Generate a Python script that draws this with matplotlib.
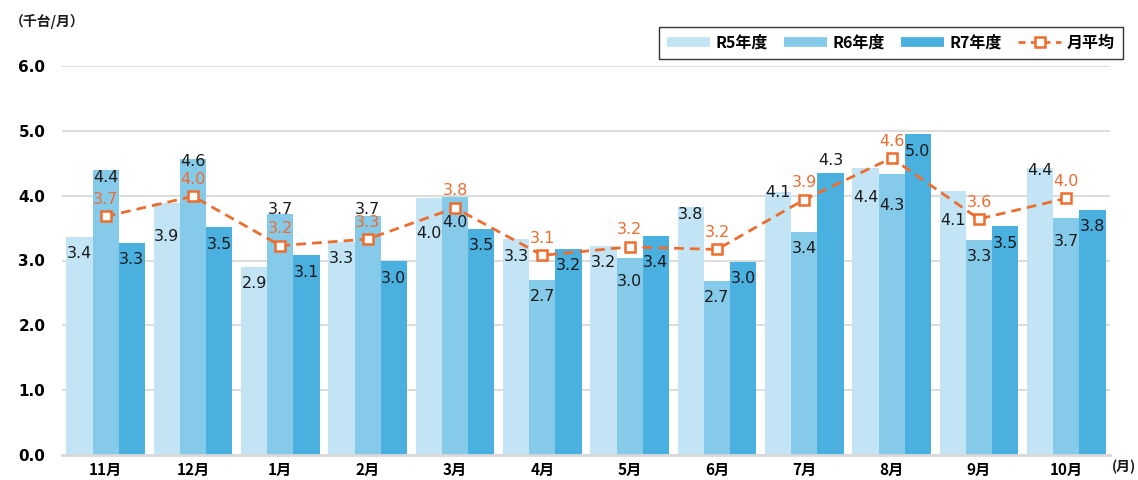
import matplotlib
matplotlib.use("Agg")
import matplotlib.pyplot as plt
from matplotlib.lines import Line2D
import numpy as np

plt.rcParams['font.family'] = ['Noto Sans CJK JP', 'DejaVu Sans']

# --- data ---
months = ["11月", "12月", "1月", "2月", "3月", "4月", "5月", "6月", "7月", "8月", "9月", "10月"]
r5 = [3.37, 3.88, 2.90, 3.29, 3.96, 3.33, 3.23, 3.82, 4.06, 4.43, 4.07, 4.42]
r6 = [4.40, 4.57, 3.71, 3.68, 3.98, 2.70, 3.04, 2.69, 3.44, 4.34, 3.32, 3.66]
r7 = [3.27, 3.51, 3.08, 2.99, 3.49, 3.18, 3.38, 2.98, 4.35, 4.95, 3.53, 3.78]
avg = [3.68, 3.99, 3.23, 3.33, 3.81, 3.08, 3.21, 3.17, 3.94, 4.58, 3.64, 3.96]
series_names = ["R5年度", "R6年度", "R7年度"]
avg_name = "月平均"

colors = ["#C2E4F4", "#86CAEA", "#49B0E0"]
orange = "#ED6D2F"
num_font = "DejaVu Sans"

# label offsets below bar top (pixels); default 17, some moved by hand in the original
label_shift = {(0, 1): 8, (1, 0): 33, (1, 1): 3, (2, 1): -5, (3, 1): -7,
               (4, 0): 35, (4, 1): 26, (6, 1): 24, (6, 2): 27, (7, 0): 7,
               (8, 0): 1, (8, 2): -12, (9, 0): 30, (9, 1): 32, (10, 0): 29,
               (11, 0): 2, (11, 1): 24}

fig = plt.figure(figsize=(11.38, 4.8), dpi=100)
ax = fig.add_axes([62 / 1138, 25 / 480, (1110 - 62) / 1138, (455 - 66) / 480])

x = np.arange(len(months))
w = 0.30
for i, (vals, c) in enumerate(zip([r5, r6, r7], colors)):
    pos = x + (i - 1) * w
    ax.bar(pos, vals, width=w, color=c, zorder=2)
    for j, v in enumerate(vals):
        off = label_shift.get((j, i), 17)
        ax.annotate(f"{v:.1f}", (pos[j], v), xytext=(0, -off), textcoords="offset pixels",
                    ha="center", va="center", fontsize=11.5, family=num_font,
                    color="#1a1a1a", zorder=5)

ax.plot(x, avg, color=orange, lw=2, ls=(0, (3.5, 2.2)), marker="s", ms=7.5,
        mfc="white", mec=orange, mew=1.8, zorder=4)
for j, v in enumerate(avg):
    ax.annotate(f"{v:.1f}", (x[j], v), xytext=(0, 17), textcoords="offset pixels",
                ha="center", va="center", fontsize=11.5, family=num_font,
                color=orange, zorder=5)

ax.set_xlim(-0.5, 11.5)
ax.set_ylim(0, 6)
yt = np.arange(0, 6.1, 1.0)
ax.set_yticks(yt)
ax.set_yticklabels([f"{t:.1f}" for t in yt], fontsize=11, fontweight="bold", family=num_font)
ax.set_xticks(x)
ax.set_xticklabels(months, fontsize=11, fontweight="bold")
ax.tick_params(axis="both", length=0)
ax.tick_params(axis="y", pad=12)
ax.tick_params(axis="x", pad=5)
ax.grid(axis="y", color="#D9D9D9", lw=1.3, zorder=0)
for s in ["top", "right", "left"]:
    ax.spines[s].set_visible(False)
ax.spines["bottom"].set_color("#D9D9D9")
ax.spines["bottom"].set_linewidth(2)
ax.spines["bottom"].set_zorder(3)

fig.text(10 / 1138, 1 - 22 / 480, "（千台/月）", fontsize=10, fontweight="bold",
         va="center", ha="left", color="#1a1a1a")
fig.text(1136 / 1138, 1 - 467 / 480, "(月)", fontsize=10, fontweight="bold",
         va="center", ha="right", color="#1a1a1a")

handles = [Line2D([], [], color=c, lw=7, solid_capstyle="butt") for c in colors]
handles.append(Line2D([], [], color=orange, lw=2, ls=(0, (2.5, 2)), marker="s", ms=7.5,
                      mfc="white", mec=orange, mew=1.8))
leg = fig.legend(handles, series_names + [avg_name], loc="upper right",
                 bbox_to_anchor=(1123 / 1138, 1 - 27 / 480), ncol=4, frameon=True,
                 fancybox=False, handlelength=2.7, columnspacing=1.0, handletextpad=0.35,
                 borderpad=0.5, borderaxespad=0, prop={"size": 11.5, "weight": "bold"})
leg.get_frame().set_edgecolor("#000000")
leg.get_frame().set_linewidth(1.0)

fig.savefig("out.png", dpi=100)
